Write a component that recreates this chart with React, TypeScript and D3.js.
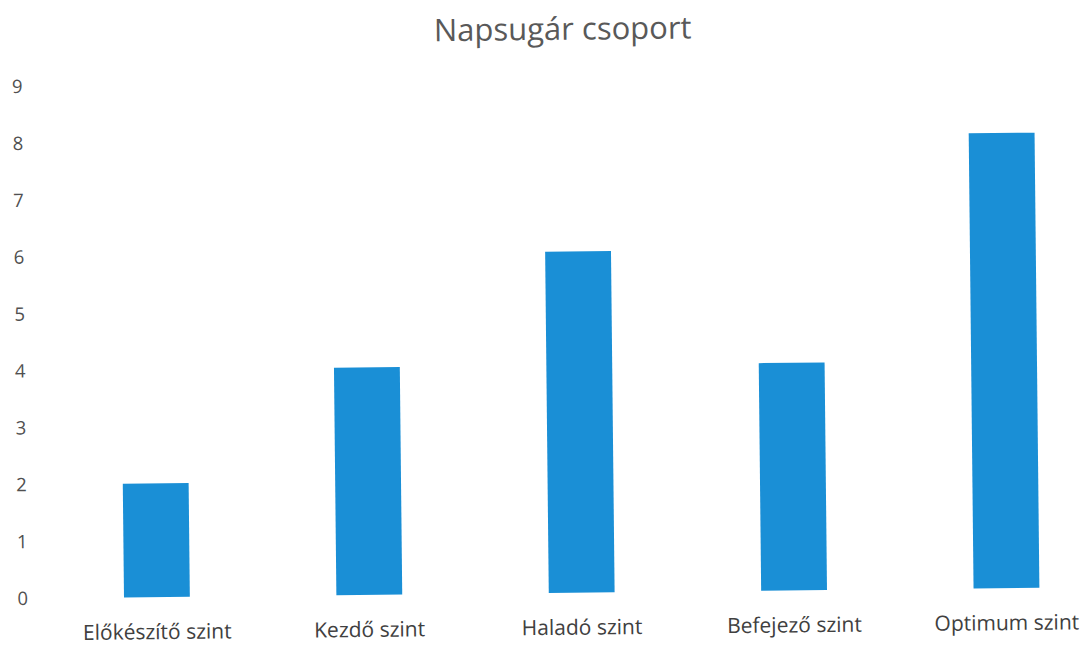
import React from "react";
import * as d3 from "d3";

const categories = ["Előkészítő szint", "Kezdő szint", "Haladó szint", "Befejező szint", "Optimum szint"];
const values = [2, 4, 6, 4, 8];
const yTicks = [0, 1, 2, 3, 4, 5, 6, 7, 8, 9];
const title = "Napsugár csoport";

export default function App() {
  const W = 1088, H = 645;
  const x = d3.scaleBand<string>().domain(categories).range([48, 1110]).paddingInner(0.69).paddingOuter(0.345);
  const y = d3.scaleLinear().domain([0, 9]).range([593, 81]);
  const font = "'Open Sans', sans-serif";
  return (
    <svg width={W} height={H} style={{ position: "absolute", left: 0, top: 0, background: "#fff" }}>
      <g transform={`rotate(-0.61, 544, 340)`}>
        <text x={566} y={40} textAnchor="middle" fontFamily={font} fontSize={31} fill="#595959">{title}</text>
        {yTicks.map((t) => (
          <text key={t} x={20} y={y(t)} dy="0.35em" textAnchor="middle" fontFamily={font} fontSize={18.5} fill="#505050">{t}</text>
        ))}
        {categories.map((c, i) => (
          <rect key={c} x={x(c)} y={y(values[i])} width={x.bandwidth()} height={y(0) - y(values[i])} fill="#1a8fd6" />
        ))}
        {categories.map((c) => (
          <text key={c} x={(x(c) ?? 0) + x.bandwidth() / 2} y={635} textAnchor="middle" fontFamily={font} fontSize={21} fill="#404040">{c}</text>
        ))}
      </g>
    </svg>
  );
}
